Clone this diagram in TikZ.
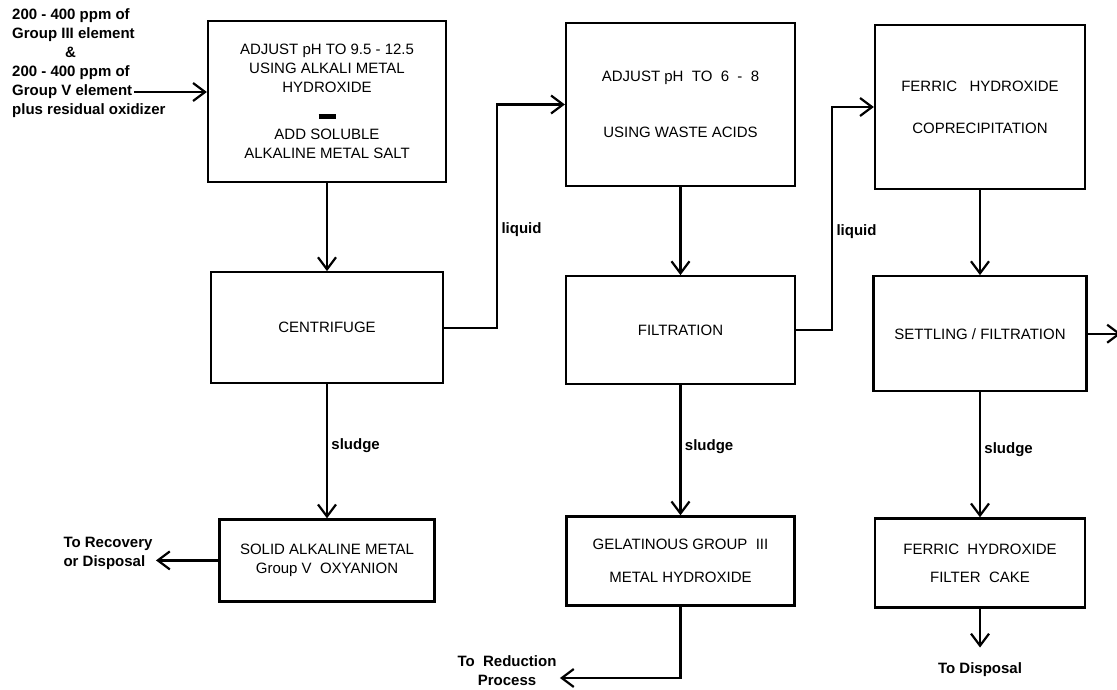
\documentclass[tikz,border=0pt]{standalone}
\usepackage{fontspec}
\setmainfont{Liberation Sans}
\usetikzlibrary{positioning,arrows.meta}

\tikzset{
  process/.style={draw, line width=2.2pt, align=center, inner sep=2pt,
    font=\fontsize{15}{19}\selectfont},
  flow/.style={line width=2.2pt, -{Straight Barb[length=12pt,width=18pt]}},
  tag/.style={font=\fontsize{15}{19}\selectfont\bfseries},
}

\begin{document}
\begin{tikzpicture}[auto, x=1pt, y=1pt, node distance=88pt]
    \useasboundingbox (0,0) rectangle (1117,689);
    % feed stream
    \node[tag, align=left, anchor=north west, inner sep=0pt] (feedtext) at (12,681)
        {200 - 400 ppm of\\Group III element\\\hspace*{53pt}\&\\200 - 400 ppm of\\Group V element\\plus residual oxidizer};
    \coordinate (feed) at (134,597);
    % top row
    \node[process, minimum width=238pt, minimum height=161pt] (adjustA) at (327,587.5)
        {ADJUST pH TO 9.5 - 12.5\\USING ALKALI METAL\\HYDROXIDE\\[7.5pt]\rule{17pt}{5pt}\\[2pt]ADD SOLUBLE\\ALKALINE METAL SALT};
    \node[process, minimum width=229pt, minimum height=163pt] (adjustB) at (680.5,584.5)
        {ADJUST pH\ \ TO\ \ 6\ \ -\ \ 8\\[37pt]USING WASTE ACIDS};
    \node[process, minimum width=210pt, minimum height=164pt] (ferric) at (980,582)
        {FERRIC\ \ \ HYDROXIDE\\[23pt]COPRECIPITATION};
    % middle row
    \node[process, minimum width=232pt, minimum height=111pt] (centrifuge) [below = of adjustA] {CENTRIFUGE};
    \node[process, minimum width=229pt, minimum height=108pt] (filtration) [below = of adjustB] {FILTRATION};
    \node[process, minimum width=213pt, minimum height=115pt] (settling) [below = 85pt of ferric] {SETTLING / FILTRATION};
    % bottom row
    \node[process, minimum width=215pt, minimum height=82pt] (solid) [below = 134pt of centrifuge]
        {SOLID ALKALINE METAL\\Group V\ \ OXYANION};
    \node[process, minimum width=228pt, minimum height=89pt] (gelat) [below = 130pt of filtration]
        {GELATINOUS GROUP\ \ III\\[14pt]METAL HYDROXIDE};
    \node[process, minimum width=210pt, minimum height=89pt] (cake) [below = 125pt of settling]
        {FERRIC\ \ HYDROXIDE\\[9pt]FILTER\ \ CAKE};
    % end points
    \node[tag, align=left, anchor=west] (recovery) at (60,136) {To Recovery\\or Disposal};
    \node[tag, align=center] (reduction) at (507,18) {To\ \ Reduction\\Process};
    \node[tag] (disposal) [below = 51pt of cake] {To Disposal};
    \coordinate (overflow) at (1121,357);

    \draw[flow] (feed) -- (feed -| adjustA.west);
    \draw[flow] (adjustA)
        edge (centrifuge);
    \draw[flow] (centrifuge.east) -- ++(53,0)
        |- node[tag, pos=0.22, right] {liquid} (adjustB.west);
    \draw[flow] (adjustB)
        edge (filtration);
    \draw[flow] (filtration.east) -- ++(36,0)
        |- node[tag, pos=0.22, right] {liquid} (ferric.west);
    \draw[flow] (ferric)
        edge (settling);
    \draw[flow] (settling.east) -- (settling.east -| overflow);
    \draw[flow] (centrifuge)
        edge node[tag, pos=0.46] {sludge} (solid);
    \draw[flow] (filtration)
        edge node[tag, pos=0.47] {sludge} (gelat);
    \draw[flow] (settling)
        edge node[tag, pos=0.46] {sludge} (cake);
    \draw[flow] (solid.west) -- (solid.west -| recovery.east);
    \draw[flow] (gelat) |- ([yshift=-7pt]reduction.east);
    \draw[flow, shorten >=12pt] (cake) -- (disposal);
\end{tikzpicture}
\end{document}
